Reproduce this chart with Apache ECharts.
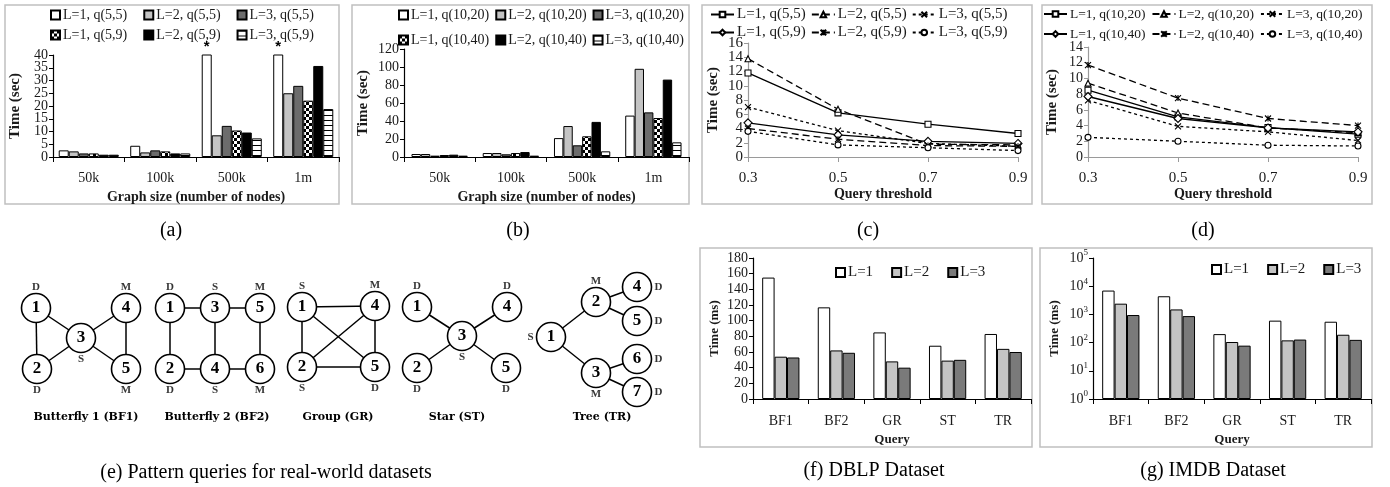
<!DOCTYPE html>
<html>
<head>
<meta charset="utf-8">
<style>
  html, body { margin: 0; padding: 0; background: #fff; }
  #main { width: 1390px; height: 487px; }
</style>
<script src="https://cdn.jsdelivr.net/npm/echarts@6/dist/echarts.min.js"></script>
</head>
<body>
<div id="main"></div>
<script>
// ---- data ----
const sizeCats = ['50k', '100k', '500k', '1m']
const namesA = ['L=1, q(5,5)', 'L=2, q(5,5)', 'L=3, q(5,5)', 'L=1, q(5,9)', 'L=2, q(5,9)', 'L=3, q(5,9)']
const namesB = ['L=1, q(10,20)', 'L=2, q(10,20)', 'L=3, q(10,20)', 'L=1, q(10,40)', 'L=2, q(10,40)', 'L=3, q(10,40)']
// values above 40 are off the chart (marked with *)
const valuesA = [
  [2.6, 4.4, 50, 50],
  [2.2, 1.8, 8.5, 25.0],
  [1.4, 2.6, 12.2, 27.9],
  [1.4, 2.2, 10.4, 22.1],
  [0.9, 1.4, 9.6, 35.7],
  [0.9, 1.4, 7.3, 18.8]
]
const valuesB = [
  [3.3, 4.4, 21, 46],
  [3.3, 4.4, 34.4, 98],
  [1.5, 3.0, 13, 49.6],
  [2.2, 4.4, 23, 43.3],
  [2.6, 5.5, 39, 86],
  [1.5, 1.5, 6.3, 16.3]
]
const thresholds = ['0.3', '0.5', '0.7', '0.9']
const valuesC = [
  [11.8, 6.2, 4.6, 3.3],
  [13.8, 6.7, 1.8, 1.7],
  [7.0, 3.7, 1.9, 1.5],
  [4.8, 3.1, 2.2, 1.9],
  [4.0, 2.5, 1.6, 1.5],
  [3.6, 1.7, 1.3, 0.9]
]
const valuesD = [
  [8.5, 5.1, 3.75, 2.9],
  [9.4, 5.6, 3.7, 3.1],
  [7.2, 3.9, 3.2, 2.1],
  [7.7, 4.9, 3.7, 3.2],
  [11.7, 7.5, 4.9, 4.0],
  [2.5, 2.0, 1.5, 1.4]
]
const queries = ['BF1', 'BF2', 'GR', 'ST', 'TR']
const levels = ['L=1', 'L=2', 'L=3']
const valuesF = [
  [155, 117, 85, 68, 83],
  [54, 62, 48, 49, 64],
  [53, 59, 40, 50, 60]
]
const valuesG = [
  [7000, 4400, 200, 600, 550],
  [2400, 1500, 105, 120, 190],
  [950, 870, 78, 128, 125]
]

// pattern queries: node id, vertex label (D/S/M), where that label sits
const patternNames = ['Butterfly 1 (BF1)', 'Butterfly 2 (BF2)', 'Group (GR)', 'Star (ST)', 'Tree (TR)']
const patternNodes = [
  [['1', 'D', 'top'], ['2', 'D', 'bottom'], ['3', 'S', 'bottom'], ['4', 'M', 'top'], ['5', 'M', 'bottom']],
  [['1', 'D', 'top'], ['2', 'D', 'bottom'], ['3', 'S', 'top'], ['4', 'S', 'bottom'], ['5', 'M', 'top'], ['6', 'M', 'bottom']],
  [['1', 'S', 'top'], ['2', 'S', 'bottom'], ['4', 'M', 'top'], ['5', 'D', 'bottom']],
  [['1', 'D', 'top'], ['2', 'D', 'bottom'], ['3', 'S', 'bottom'], ['4', 'D', 'top'], ['5', 'D', 'bottom']],
  [['1', 'S', 'left'], ['2', 'M', 'top'], ['3', 'M', 'bottom'], ['4', 'D', 'right'], ['5', 'D', 'right'], ['6', 'D', 'right'], ['7', 'D', 'right']]
]
const patternEdges = [
  [['1', '2'], ['1', '3'], ['2', '3'], ['3', '4'], ['3', '5'], ['4', '5']],
  [['1', '3'], ['3', '5'], ['1', '2'], ['3', '4'], ['5', '6'], ['2', '4'], ['4', '6']],
  [['1', '4'], ['1', '2'], ['1', '5'], ['2', '4'], ['2', '5'], ['4', '5']],
  [['1', '3'], ['2', '3'], ['3', '4'], ['3', '5']],
  [['1', '2'], ['1', '3'], ['2', '4'], ['2', '5'], ['3', '6'], ['3', '7']]
]
// diagram layout (hidden grid units), same order as patternNodes
const patternLayout = [
  [[36, 308], [37, 369], [81, 338], [126, 308], [126, 369]],
  [[170, 308], [170, 369], [215, 308], [215, 369], [260, 308], [260, 369]],
  [[302, 307], [302, 367], [375, 306], [375, 367]],
  [[417, 307], [417, 368], [462, 336], [507, 307], [506, 368]],
  [[551, 337], [596, 302], [596, 373], [637, 287], [637, 321], [637, 359], [637, 392]]
]

// ---- styles ----
const serif = '"Liberation Serif", "DejaVu Serif", serif'
const ink = '#1a1a1a'

function makeChecker() {
  const c = document.createElement('canvas')
  c.width = c.height = 6
  const g = c.getContext('2d')
  g.fillStyle = '#fff'
  g.fillRect(0, 0, 6, 6)
  g.fillStyle = '#000'
  g.fillRect(0, 0, 3, 3)
  g.fillRect(3, 3, 3, 3)
  return { image: c, repeat: 'repeat' }
}
function makeStripes() {
  const c = document.createElement('canvas')
  c.width = 5
  c.height = 5
  const g = c.getContext('2d')
  g.fillStyle = '#fff'
  g.fillRect(0, 0, 5, 5)
  g.fillStyle = '#000'
  g.fillRect(0, 0, 5, 1)
  return { image: c, repeat: 'repeat' }
}
const barFills = ['#ffffff', '#c4c4c4', '#6c6c6c', makeChecker(), '#000000', makeStripes()]
const levelFills = ['#ffffff', '#c4c4c4', '#7a7a7a']
const lineSymbols = [
  'rect', 'triangle', 'path://M0,0L10,10M10,0L0,10',
  'diamond', 'path://M0,0L10,10M10,0L0,10M5,0L5,10', 'circle'
]
const lineTypes = ['solid', [7, 4], [3, 3], 'solid', [7, 4], [3, 3]]

const grids = [
  { left: 53, top: 55, width: 286, height: 102 },   // a
  { left: 404, top: 49, width: 285, height: 108 },  // b
  { left: 748, top: 43, width: 270, height: 114 },  // c
  { left: 1088, top: 47, width: 270, height: 110 }, // d
  { left: 753, top: 258, width: 278, height: 141 }, // f
  { left: 1093, top: 258, width: 278, height: 141 },// g
  { left: 0, top: 225, width: 700, height: 262 }    // e (diagram)
].map(g => Object.assign({ outerBoundsMode: 'none', containLabel: false }, g))

function txt(size, bold) {
  return { fontFamily: serif, fontSize: size, color: ink, fontWeight: bold ? 'bold' : 'normal' }
}

function catAxis(gi, data, opts) {
  return {
    gridIndex: gi, type: 'category', data,
    boundaryGap: opts.boundaryGap !== false,
    axisLine: { show: true, lineStyle: { color: opts.axisColor, width: 1.2 } },
    axisTick: { show: true, length: 5, alignWithLabel: opts.boundaryGap === false, lineStyle: { color: opts.axisColor } },
    axisLabel: Object.assign(txt(opts.fs), { margin: opts.margin, interval: 0 }),
    splitLine: { show: false },
    name: opts.name, nameLocation: 'middle', nameGap: opts.nameGap,
    nameTextStyle: txt(opts.nfs, true)
  }
}
function valAxis(gi, opts) {
  const ax = Object.assign({
    gridIndex: gi, type: 'value', position: 'left',
    axisLine: { show: true, lineStyle: { color: opts.axisColor, width: 1.2 } },
    axisTick: { show: true, length: 4, lineStyle: { color: opts.axisColor } },
    axisLabel: Object.assign(txt(opts.fs), { margin: 5 }),
    splitLine: { show: false },
    name: 'Time (' + opts.unit + ')', nameLocation: 'middle', nameGap: opts.nameGap, nameRotate: 90,
    nameTextStyle: txt(opts.nfs, true)
  }, opts.extra)
  Object.assign(ax.axisLabel, { showMinLabel: true, showMaxLabel: true })
  return ax
}
// dense axes: the main axis prints every other label, a twin axis prints the rest
function splitLabels(ax) {
  ax.axisLabel.formatter = v => (Math.round(v / ax.interval) % 2 ? '' : String(v))
  return {
    gridIndex: ax.gridIndex, type: 'value', position: 'left', offset: 0,
    min: ax.min, max: ax.max, interval: ax.interval,
    axisLine: { show: false }, axisTick: { show: false }, splitLine: { show: false },
    axisLabel: Object.assign({}, ax.axisLabel, {
      showMinLabel: false, showMaxLabel: false,
      formatter: v => (Math.round(v / ax.interval) % 2 ? String(v) : '')
    })
  }
}

const xAxes = [
  catAxis(0, sizeCats, { axisColor: '#000', fs: 14, margin: 14, name: 'Graph size (number of nodes)', nameGap: 33, nfs: 14 }),
  catAxis(1, sizeCats, { axisColor: '#000', fs: 14, margin: 14, name: 'Graph size (number of nodes)', nameGap: 33, nfs: 14 }),
  catAxis(2, thresholds, { axisColor: '#9a9a9a', fs: 15, margin: 14, boundaryGap: false, name: 'Query threshold', nameGap: 29, nfs: 14 }),
  catAxis(3, thresholds, { axisColor: '#9a9a9a', fs: 15, margin: 14, boundaryGap: false, name: 'Query threshold', nameGap: 29, nfs: 14 }),
  catAxis(4, queries, { axisColor: '#000', fs: 14, margin: 15, name: 'Query', nameGap: 34, nfs: 13 }),
  catAxis(5, queries, { axisColor: '#000', fs: 14, margin: 15, name: 'Query', nameGap: 34, nfs: 13 }),
  { gridIndex: 6, type: 'value', min: 0, max: 700, show: false }
]
const yAxes = [
  valAxis(0, { axisColor: '#000', fs: 14, unit: 'sec', nameGap: 30, nfs: 15, extra: { min: 0, max: 40, interval: 5 } }),
  valAxis(1, { axisColor: '#000', fs: 14, unit: 'sec', nameGap: 33, nfs: 15, extra: { min: 0, max: 120, interval: 20 } }),
  valAxis(2, { axisColor: '#9a9a9a', fs: 15, unit: 'sec', nameGap: 27, nfs: 15, extra: { min: 0, max: 16, interval: 2 } }),
  valAxis(3, { axisColor: '#9a9a9a', fs: 14, unit: 'sec', nameGap: 28, nfs: 15, extra: { min: 0, max: 14, interval: 2 } }),
  valAxis(4, { axisColor: '#000', fs: 14, unit: 'ms', nameGap: 32, nfs: 13, extra: { min: 0, max: 180, interval: 20 } }),
  valAxis(5, { axisColor: '#000', fs: 14, unit: 'ms', nameGap: 32, nfs: 13, extra: {
    type: 'log', logBase: 10, min: 1, max: 100000,
    axisLabel: {
      margin: 5,
      formatter: v => '{b|10}{s|' + Math.round(Math.log10(v)) + '}',
      rich: {
        b: txt(14),
        s: Object.assign(txt(9), { padding: [0, 0, 10, 0] })
      }
    }
  } }),
  { gridIndex: 6, type: 'value', min: 225, max: 487, inverse: true, show: false }
]
yAxes.push(splitLabels(yAxes[0]), splitLabels(yAxes[2]))

// ---- series ----
const series = []
function addBars(prefix, names, values, gi, fills, gap) {
  names.forEach((n, i) => {
    series.push({
      name: prefix + '|' + n, type: 'bar', xAxisIndex: gi, yAxisIndex: gi,
      data: values[i], barGap: '0%', barCategoryGap: gap,
      itemStyle: { color: fills[i], borderColor: '#000', borderWidth: 1 },
      label: prefix === 'a' && i === 0
        ? { show: true, position: 'top', distance: 0, formatter: p => (p.value > 40 ? '*' : ''), fontSize: 15, fontWeight: 'bold', color: '#000' }
        : { show: false }
    })
  })
}
function addLines(prefix, names, values, gi) {
  names.forEach((n, i) => {
    series.push({
      name: prefix + '|' + n, type: 'line', xAxisIndex: gi, yAxisIndex: gi,
      data: values[i], symbol: lineSymbols[i], symbolSize: i === 3 ? 8 : 6,
      showAllSymbol: true,
      itemStyle: { color: '#fff', borderColor: '#000', borderWidth: 1.1 },
      lineStyle: { color: '#000', width: 1.3, type: lineTypes[i] }
    })
  })
}
addBars('a', namesA, valuesA, 0, barFills, '16%')
addBars('b', namesB, valuesB, 1, barFills, '21%')
addLines('c', namesA, valuesC, 2)
addLines('d', namesB, valuesD, 3)
addBars('f', levels, valuesF, 4, levelFills, '33%')
addBars('g', levels, valuesG, 5, levelFills, '33%')

// pattern diagrams
patternNodes.forEach((nodes, p) => {
  const id = k => 'p' + p + '-' + k
  series.push({
    type: 'graph', coordinateSystem: 'cartesian2d', xAxisIndex: 6, yAxisIndex: 6,
    silent: true, symbol: 'circle', symbolSize: 29, edgeSymbol: ['none', 'none'],
    data: nodes.map((nd, k) => ({ name: id(nd[0]), value: patternLayout[p][k] })),
    links: patternEdges[p].map(e => ({ source: id(e[0]), target: id(e[1]) })),
    itemStyle: { color: '#fff', borderColor: '#000', borderWidth: 1.6 },
    lineStyle: { color: '#000', width: 1.5, opacity: 1, curveness: 0 },
    label: { show: true, position: 'inside', formatter: q => q.name.split('-')[1], fontFamily: serif, fontSize: 17, fontWeight: 'bold', color: '#000' }
  })
  series.push({
    type: 'scatter', xAxisIndex: 6, yAxisIndex: 6, silent: true, z: 5,
    symbolSize: 29, itemStyle: { color: 'rgba(0,0,0,0)' },
    data: nodes.map((nd, k) => ({
      value: patternLayout[p][k],
      role: nd[1],
      label: { position: nd[2], distance: nd[2] === 'left' || nd[2] === 'right' ? 3 : 1 }
    })),
    label: {
      show: true, formatter: q => q.data.role,
      fontFamily: serif, fontSize: 11, fontWeight: 'bold', color: '#000'
    }
  })
})

// ---- legends ----
function legend(prefix, names, left, top, o) {
  return {
    left, top, padding: 0, orient: 'horizontal',
    itemGap: o.gap, itemWidth: o.w, itemHeight: o.h, icon: o.icon,
    selectedMode: false,
    data: names.map(n => prefix + '|' + n),
    formatter: n => n.split('|')[1],
    textStyle: Object.assign(txt(o.fs), { padding: [0, 0, 0, -2] })
  }
}
const barLeg = (fs, gap) => ({ gap, w: 9, h: 9, icon: 'rect', fs })
const lineLeg = (fs, gap) => ({ gap, w: 23, h: 7, icon: undefined, fs })
const legends = [
  legend('a', namesA.slice(0, 3), 50, 8, barLeg(14, 16)),
  legend('a', namesA.slice(3), 50, 28, barLeg(14, 16)),
  legend('b', namesB.slice(0, 3), 398, 8, barLeg(14, 6)),
  legend('b', namesB.slice(3), 398, 33, barLeg(14, 6)),
  legend('c', namesA.slice(0, 3), 710, 7, lineLeg(15, 5)),
  legend('c', namesA.slice(3), 710, 25, lineLeg(15, 5)),
  legend('d', namesB.slice(0, 3), 1043, 7, lineLeg(13.5, 6)),
  legend('d', namesB.slice(3), 1043, 27, lineLeg(13.5, 6)),
  legend('f', levels, 835, 265, barLeg(15, 18)),
  legend('g', levels, 1211, 262, barLeg(15, 18))
]

// ---- frames and captions ----
const frames = [
  [5, 5, 334, 199], [352, 5, 337, 199], [702, 5, 330, 199], [1042, 5, 330, 199],
  [700, 248, 332, 199], [1040, 248, 332, 199]
]
const captions = [
  ['(a)', 171, 231], ['(b)', 518, 231], ['(c)', 868, 231], ['(d)', 1203, 231],
  ['(e) Pattern queries for real-world datasets', 266, 473],
  ['(f) DBLP Dataset', 874, 471], ['(g) IMDB Dataset', 1213, 471]
]
const patternTitlePos = [[86, 417], [217, 417], [338, 417], [457, 417], [602, 417]]
const graphic = []
frames.forEach(f => graphic.push({
  type: 'rect', shape: { x: f[0], y: f[1], width: f[2], height: f[3] },
  style: { fill: 'none', stroke: '#c0c0c0', lineWidth: 1.5 }, silent: true
}))
captions.forEach(c => graphic.push({
  type: 'text', x: c[1], y: c[2],
  style: { text: c[0], font: '20px ' + serif, fill: '#000', textAlign: 'center', textVerticalAlign: 'middle' }
}))
patternNames.forEach((n, i) => graphic.push({
  type: 'text', x: patternTitlePos[i][0], y: patternTitlePos[i][1],
  style: { text: n, font: 'bold 11px "DejaVu Serif", serif', fill: '#000', textAlign: 'center', textVerticalAlign: 'middle' }
}))

const chart = echarts.init(document.getElementById('main'), null, { renderer: 'canvas' })
chart.setOption({
  animation: false,
  backgroundColor: '#fff',
  grid: grids,
  xAxis: xAxes,
  yAxis: yAxes,
  legend: legends,
  series,
  graphic
})
</script>
</body>
</html>
